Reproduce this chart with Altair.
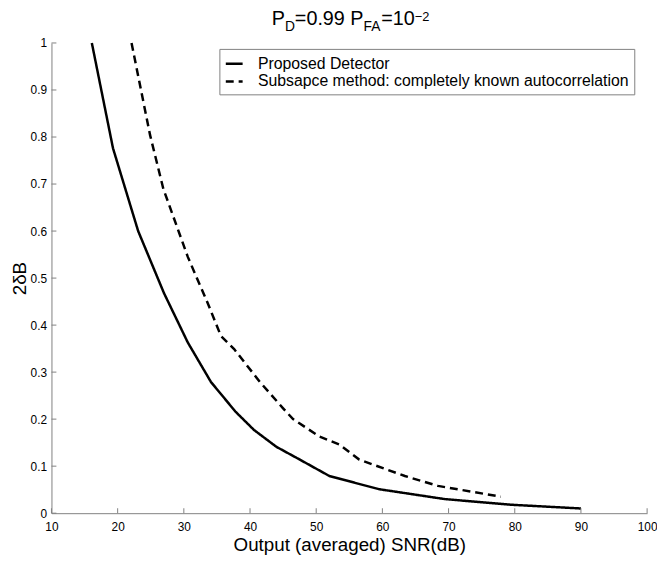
import altair as alt
import pandas as pd

# ---- data ----
series_names = ["Proposed Detector", "Subsapce method: completely known autocorrelation"]

solid_x = [16.1, 19.3, 23.1, 27.0, 30.6, 34.1, 37.8, 40.6, 44.0, 47.0, 52.0, 59.5, 69.4, 79.4, 90.0]
solid_y = [1.0, 0.776, 0.600, 0.468, 0.363, 0.279, 0.216, 0.177, 0.141, 0.118, 0.079, 0.051, 0.030, 0.018, 0.010]

dash_x = [22.1, 24.9, 26.9, 30.6, 33.6, 35.6, 37.6, 41.5, 45.0, 46.5, 50.5, 53.5, 56.5, 63.4, 68.4, 77.9]
dash_y = [1.0, 0.804, 0.690, 0.545, 0.447, 0.377, 0.349, 0.279, 0.223, 0.200, 0.163, 0.146, 0.114, 0.079, 0.058, 0.035]

x_ticks = [10, 20, 30, 40, 50, 60, 70, 80, 90, 100]
y_ticks = [0, 0.1, 0.2, 0.3, 0.4, 0.5, 0.6, 0.7, 0.8, 0.9, 1.0]

x_title = "Output (averaged) SNR(dB)"
y_title = "2δB"

df = pd.concat([
    pd.DataFrame({"x": solid_x, "y": solid_y, "series": series_names[0]}),
    pd.DataFrame({"x": dash_x, "y": dash_y, "series": series_names[1]}),
], ignore_index=True)
xt = pd.DataFrame({"x": x_ticks})
yt = pd.DataFrame({"y": y_ticks})

W, H = 603, 476
FONT = "Liberation Sans"
GREY = "#808080"

x_axis = alt.Axis(values=x_ticks, title=x_title, ticks=False, grid=False, labelFlush=False,
                  labelOverlap=False, labelPadding=9, titlePadding=3, format="d",
                  labelFont=FONT, labelFontSize=12, labelColor="black",
                  titleFont=FONT, titleFontSize=19, titleFontWeight="normal", titleColor="black",
                  domainColor=GREY)
y_axis = alt.Axis(values=y_ticks, title=y_title, ticks=False, grid=False, labelFlush=False,
                  labelOverlap=False, labelPadding=5, titlePadding=1, format="~g",
                  labelFont=FONT, labelFontSize=12, labelColor="black",
                  titleFont=FONT, titleFontSize=19, titleFontWeight="normal", titleColor="black",
                  domainColor=GREY)
x_enc = alt.X("x:Q", scale=alt.Scale(domain=[10, 100], nice=False, zero=False), axis=x_axis)
y_enc = alt.Y("y:Q", scale=alt.Scale(domain=[0, 1], nice=False), axis=y_axis)

lines = alt.Chart(df).mark_line(color="black", strokeWidth=2.5).encode(
    x=x_enc,
    y=y_enc,
    strokeDash=alt.StrokeDash(
        "series:N",
        scale=alt.Scale(domain=series_names, range=[[1, 0], [8, 5]]),
        legend=alt.Legend(
            title=None, orient="none", legendX=170, legendY=6,
            strokeColor=GREY, fillColor="white", padding=5,
            labelFont=FONT, labelFontSize=16, labelColor="black", labelLimit=1000,
            symbolType="stroke", symbolSize=290, symbolStrokeWidth=2.5,
            symbolStrokeColor="black", rowPadding=0, labelOffset=14,
        ),
    ),
)

xticks = alt.Chart(xt).mark_rule(color=GREY, strokeWidth=1).encode(
    x=x_enc, y=alt.value(H), y2=alt.value(H - 5)
)
yticks = alt.Chart(yt).mark_rule(color=GREY, strokeWidth=1).encode(
    y=y_enc, x=alt.value(0), x2=alt.value(5)
)

# title pieces: P_D=0.99 P_FA=10^-2
one = pd.DataFrame({"a": [0]})
MAIN, SUB, SUP = 20, 14, 13
x0 = 223
w_P, w_D, w_mid, w_FA, w_10 = 13.3, 10.1, 69.5, 17.9, 33.9
pieces = [
    ("P", MAIN, 0, -18),
    ("D", SUB, w_P, -12),
    ("=0.99 P", MAIN, w_P + w_D, -18),
    ("FA", SUB, w_P + w_D + w_mid, -12),
    ("=10", MAIN, w_P + w_D + w_mid + w_FA, -18),
    ("\u22122", SUP, w_P + w_D + w_mid + w_FA + w_10, -22),
]
title_layers = [
    alt.Chart(one).mark_text(font=FONT, fontSize=fs, align="left", baseline="alphabetic",
                             color="black").encode(
        x=alt.value(x0 + dx), y=alt.value(dy), text=alt.value(t))
    for (t, fs, dx, dy) in pieces
]

chart = alt.layer(lines, xticks, yticks, *title_layers).properties(
    width=W, height=H,
    background="white",
    autosize=alt.AutoSizeParams(type="none"),
    padding={"left": 44, "top": 32, "right": 10, "bottom": 45},
).configure_view(stroke="transparent")

chart.save("out.html", embed_options={"renderer": "svg", "actions": False})
